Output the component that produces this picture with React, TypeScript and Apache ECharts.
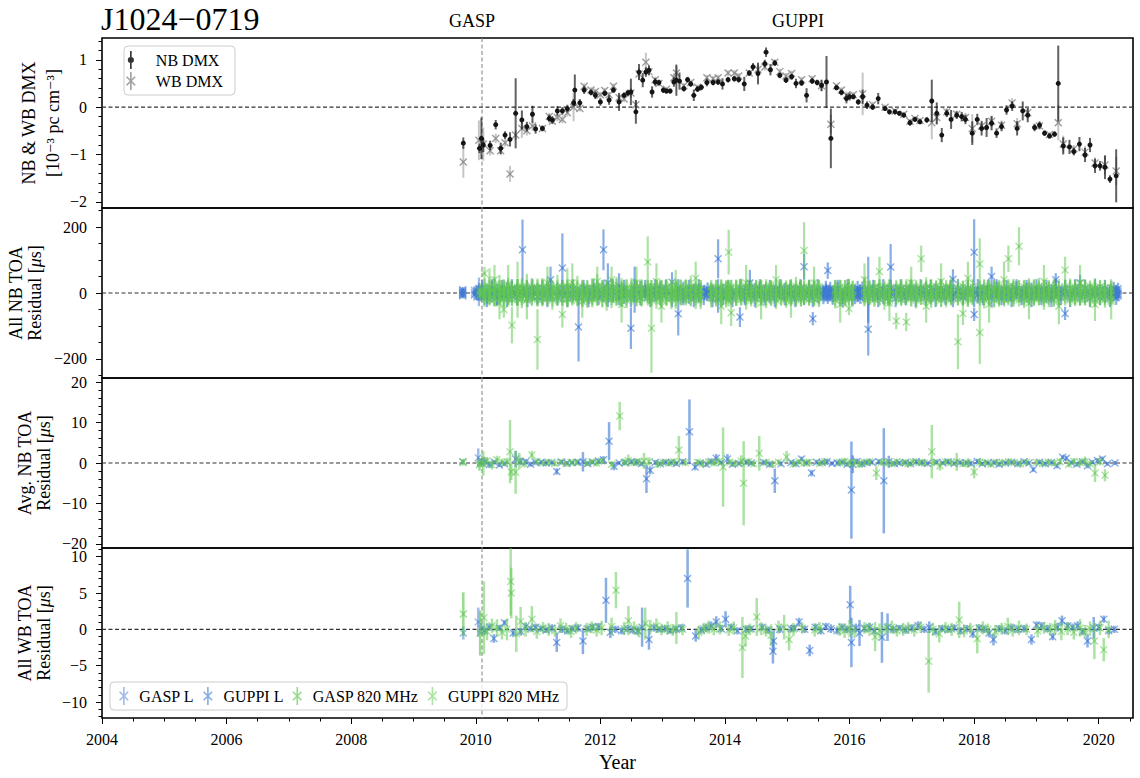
import React, { useEffect, useRef } from 'react';
import * as echarts from 'echarts';

const FONT = '"Liberation Serif", "DejaVu Serif", "Times New Roman", serif';

// ---- shared axis settings -------------------------------------------------
const yearMin = 2004;
const yearMax = 2020.55;
const yearTicks = [2004, 2006, 2008, 2010, 2012, 2014, 2016, 2018, 2020];
const backendSwitchYear = 2010.1;
const dmxTicks = [-2, -1, 0, 1];
const allNbTicks = [-200, 0, 200];
const avgNbTicks = [-20, -10, 0, 10, 20];
const allWbTicks = [-10, -5, 0, 5, 10];

// ---- DMX time series: [year, DMX (1e-3 pc cm^-3), error] ------------------
const nbDmx = [
  [2009.80, -0.76, 0.12], [2010.06, -0.87, 0.10], [2010.09, -0.66, 0.44], [2010.12, -0.80, 0.15],
  [2010.23, -0.81, 0.10], [2010.32, -0.37, 0.10], [2010.40, -0.87, 0.12], [2010.47, -0.59, 0.08],
  [2010.55, -0.68, 0.15], [2010.64, -0.13, 0.74], [2010.74, -0.27, 0.20], [2010.82, -0.41, 0.10],
  [2010.91, -0.15, 0.18], [2010.96, -0.46, 0.10], [2011.07, -0.45, 0.06], [2011.18, -0.24, 0.08],
  [2011.23, -0.27, 0.08], [2011.31, -0.08, 0.10], [2011.39, -0.08, 0.08], [2011.47, -0.03, 0.08],
  [2011.57, 0.09, 0.08], [2011.59, 0.36, 0.33], [2011.67, 0.09, 0.08], [2011.74, 0.36, 0.08],
  [2011.85, 0.31, 0.06], [2011.92, 0.25, 0.08], [2012.00, 0.11, 0.08], [2012.07, 0.29, 0.06],
  [2012.14, 0.15, 0.10], [2012.21, 0.36, 0.06], [2012.30, 0.11, 0.19], [2012.38, 0.25, 0.06],
  [2012.44, 0.30, 0.06], [2012.49, 0.32, 0.28], [2012.57, -0.10, 0.25], [2012.62, 0.74, 0.17],
  [2012.68, 0.57, 0.15], [2012.73, 0.74, 0.10], [2012.78, 0.78, 0.10], [2012.83, 0.32, 0.12],
  [2012.88, 0.53, 0.08], [2012.94, 0.52, 0.06], [2013.01, 0.36, 0.06], [2013.06, 0.34, 0.05],
  [2013.12, 0.34, 0.05], [2013.18, 0.53, 0.10], [2013.22, 0.57, 0.33], [2013.27, 0.55, 0.18],
  [2013.34, 0.39, 0.06], [2013.40, 0.58, 0.06], [2013.45, 0.49, 0.06], [2013.50, 0.25, 0.12],
  [2013.56, 0.38, 0.06], [2013.62, 0.42, 0.06], [2013.71, 0.52, 0.08], [2013.81, 0.52, 0.06],
  [2013.89, 0.53, 0.06], [2013.96, 0.49, 0.12], [2014.05, 0.58, 0.06], [2014.15, 0.60, 0.06],
  [2014.22, 0.58, 0.06], [2014.31, 0.49, 0.15], [2014.39, 0.72, 0.06], [2014.45, 0.85, 0.08],
  [2014.53, 0.71, 0.23], [2014.64, 0.92, 0.08], [2014.66, 1.16, 0.10], [2014.73, 0.79, 0.12],
  [2014.80, 0.93, 0.06], [2014.88, 0.67, 0.06], [2014.98, 0.57, 0.06], [2015.07, 0.64, 0.06],
  [2015.14, 0.50, 0.10], [2015.23, 0.51, 0.06], [2015.31, 0.25, 0.15], [2015.40, 0.55, 0.06],
  [2015.48, 0.52, 0.06], [2015.55, 0.46, 0.12], [2015.63, 0.53, 0.55], [2015.70, -0.66, 0.63],
  [2015.79, 0.41, 0.05], [2015.87, 0.31, 0.06], [2015.95, 0.18, 0.10], [2016.00, 0.22, 0.08],
  [2016.06, 0.22, 0.05], [2016.14, 0.11, 0.06], [2016.21, 0.22, 0.15], [2016.28, 0.04, 0.08],
  [2016.37, 0.00, 0.06], [2016.46, 0.18, 0.12], [2016.57, -0.03, 0.05], [2016.64, -0.10, 0.05],
  [2016.73, -0.10, 0.05], [2016.80, -0.13, 0.05], [2016.87, -0.17, 0.05], [2016.97, -0.33, 0.06],
  [2017.05, -0.26, 0.05], [2017.13, -0.31, 0.05], [2017.24, -0.27, 0.06], [2017.32, 0.13, 0.45],
  [2017.40, -0.13, 0.23], [2017.48, -0.59, 0.15], [2017.56, -0.13, 0.08], [2017.63, -0.26, 0.20],
  [2017.72, -0.17, 0.08], [2017.80, -0.20, 0.10], [2017.86, -0.26, 0.10], [2017.97, -0.55, 0.25],
  [2018.05, -0.26, 0.12], [2018.12, -0.45, 0.15], [2018.20, -0.43, 0.20], [2018.28, -0.34, 0.15],
  [2018.36, -0.55, 0.10], [2018.44, -0.41, 0.10], [2018.52, -0.06, 0.10], [2018.61, 0.02, 0.10],
  [2018.69, -0.45, 0.15], [2018.78, -0.08, 0.20], [2018.86, -0.17, 0.15], [2018.97, -0.43, 0.08],
  [2019.05, -0.38, 0.08], [2019.13, -0.55, 0.06], [2019.21, -0.61, 0.05], [2019.29, -0.57, 0.06],
  [2019.35, 0.50, 0.80], [2019.43, -0.82, 0.18], [2019.53, -0.84, 0.15], [2019.60, -0.94, 0.08],
  [2019.69, -0.78, 0.15], [2019.78, -1.01, 0.15], [2019.86, -0.80, 0.15], [2019.94, -1.24, 0.15],
  [2020.02, -1.24, 0.10], [2020.10, -1.27, 0.25], [2020.18, -1.52, 0.08], [2020.28, -1.45, 0.56],
];

const wbDmx = [
  [2009.80, -1.16, 0.33], [2010.05, -0.70, 0.42], [2010.12, -0.78, 0.35], [2010.23, -0.92, 0.10],
  [2010.32, -0.66, 0.10], [2010.40, -0.92, 0.10], [2010.47, -0.75, 0.08], [2010.55, -1.41, 0.17],
  [2010.64, -0.59, 0.10], [2010.74, -0.45, 0.20], [2010.82, -0.50, 0.10], [2010.91, -0.40, 0.10],
  [2011.07, -0.45, 0.06], [2011.18, -0.20, 0.08], [2011.23, -0.30, 0.06], [2011.31, -0.22, 0.08],
  [2011.39, -0.26, 0.08], [2011.47, -0.12, 0.08], [2011.57, 0.00, 0.30], [2011.67, -0.03, 0.06],
  [2011.74, 0.44, 0.06], [2011.85, 0.36, 0.06], [2011.92, 0.33, 0.06], [2012.00, 0.26, 0.06],
  [2012.07, 0.35, 0.06], [2012.14, 0.26, 0.06], [2012.21, 0.44, 0.06], [2012.30, 0.20, 0.08],
  [2012.38, 0.17, 0.06], [2012.49, 0.30, 0.10], [2012.57, 0.05, 0.10], [2012.62, 0.70, 0.12],
  [2012.73, 0.95, 0.20], [2012.78, 0.75, 0.10], [2012.88, 0.58, 0.06], [2012.94, 0.50, 0.06],
  [2013.06, 0.38, 0.05], [2013.18, 0.62, 0.10], [2013.22, 0.72, 0.15], [2013.34, 0.45, 0.06],
  [2013.45, 0.52, 0.06], [2013.56, 0.42, 0.06], [2013.71, 0.62, 0.06], [2013.81, 0.60, 0.06],
  [2013.89, 0.62, 0.06], [2014.05, 0.72, 0.06], [2014.15, 0.72, 0.06], [2014.22, 0.66, 0.06],
  [2014.39, 0.72, 0.06], [2014.53, 0.80, 0.10], [2014.64, 0.85, 0.08], [2014.80, 0.95, 0.06],
  [2014.88, 0.75, 0.06], [2014.98, 0.66, 0.06], [2015.07, 0.71, 0.06], [2015.23, 0.58, 0.06],
  [2015.40, 0.60, 0.06], [2015.55, 0.45, 0.12], [2015.70, -0.36, 0.20], [2015.79, 0.45, 0.05],
  [2015.87, 0.36, 0.06], [2015.95, 0.25, 0.08], [2016.06, 0.26, 0.06], [2016.21, 0.28, 0.45],
  [2016.37, 0.05, 0.06], [2016.57, 0.00, 0.05], [2016.73, -0.08, 0.05], [2016.87, -0.15, 0.05],
  [2016.97, -0.30, 0.05], [2017.05, -0.24, 0.05], [2017.13, -0.28, 0.05], [2017.32, -0.33, 0.35],
  [2017.40, -0.22, 0.15], [2017.56, -0.10, 0.08], [2017.72, -0.15, 0.08], [2017.86, -0.22, 0.10],
  [2017.97, -0.45, 0.30], [2018.12, -0.40, 0.12], [2018.28, -0.30, 0.12], [2018.44, -0.38, 0.10],
  [2018.61, 0.09, 0.10], [2018.69, -0.35, 0.12], [2018.86, -0.12, 0.12], [2019.05, -0.40, 0.08],
  [2019.21, -0.58, 0.05], [2019.35, -0.33, 0.37], [2019.43, -0.78, 0.18], [2019.60, -0.88, 0.08],
  [2019.78, -0.95, 0.12], [2019.94, -1.18, 0.12], [2020.10, -1.22, 0.20], [2020.28, -1.35, 0.30],
];

// ---- all narrowband TOAs: [year, res1, err1, res2, err2, ...] in microseconds
const nbToaGaspL = [
  [2009.79, 3, 6, -2, 5, 1, 7, -4, 6, 5, 8, -6, 9, 8, 10, -9, 8, 10, 7, 0, 12],
  [2009.98, 2, 8, -6, 10, 8, 9, -3, 7],
  [2010.02, 5, 12, -8, 14, 0, 10, 10, 13, -12, 11],
  [2010.05, -4, 9, 6, 10, 12, 35, -10, 30, 14, 16],
  [2010.08, 3, 10, -5, 9, 8, 12, -12, 14],
];
const nbToaGasp820 = [
  [2010.07, -6, 15, 8, 20, 2, 12],
];
const nbToaGuppiL = [
  [2010.10, 4, 14, -6, 16, 10, 20, 14, 26], [2010.18, -3, 15, 8, 18, -10, 22, -15, 28],
  [2010.26, 5, 16, -8, 20, 12, 24, 12, 30], [2010.34, -2, 14, 9, 20, -12, 26, -13, 24],
  [2010.42, 6, 18, -5, 15, 0, 24, 14, 26], [2010.50, -7, 16, 4, 14, 11, 22, -15, 28],
  [2010.58, 3, 15, -9, 20, 8, 26, 12, 30], [2010.66, -4, 18, 10, 16, -1, 30, -13, 24],
  [2010.75, 131, 92, 2, 18, -6, 20, 14, 26], [2010.83, 5, 14, -3, 18, 9, 24, -15, 28],
  [2010.91, -8, 16, 3, 20, 6, 14, 12, 30], [2010.99, 1, 15, -10, 22, 12, 18, -13, 24],
  [2011.07, 6, 18, -4, 14, -9, 26, 14, 26], [2011.15, -2, 16, 8, 20, 3, 28, -15, 28],
  [2011.20, 40, 40, -5, 18, 7, 16, 12, 30], [2011.31, 2, 15, -7, 20, 10, 22, -13, 24],
  [2011.39, 76, 105, -3, 16, 5, 18, 14, 26], [2011.47, 8, 20, -6, 14, 0, 24, -15, 28],
  [2011.56, -4, 18, 9, 22, -11, 16, 12, 30], [2011.65, -103, 105, 3, 15, -2, 20, -13, 24],
  [2011.73, 6, 16, -8, 22, 11, 18, 14, 26], [2011.81, -1, 14, 4, 20, -9, 24, -15, 28],
  [2011.89, 7, 18, -5, 16, 2, 26, 12, 30], [2011.97, -6, 15, 10, 20, -2, 18, -13, 24],
  [2012.05, 131, 62, 4, 16, -7, 20, 14, 26], [2012.12, 30, 60, -3, 18, 8, 22, -15, 28],
  [2012.20, 5, 15, -9, 20, 1, 26, 12, 30], [2012.30, 20, 40, -4, 16, 9, 18, -13, 24],
  [2012.38, -2, 14, 6, 20, -10, 24, 14, 26], [2012.49, -107, 63, 3, 18, -5, 16, -15, 28],
  [2012.55, 10, 70, -8, 20, 7, 22, 12, 30], [2012.64, 2, 16, -4, 14, 11, 26, -13, 24],
  [2012.72, -6, 18, 8, 20, 0, 16, 14, 26], [2012.80, 4, 15, -10, 22, 6, 24, -15, 28],
  [2012.88, -3, 16, 9, 18, -7, 20, 12, 30], [2012.96, 5, 20, -2, 14, 10, 28, -13, 24],
  [2013.05, -8, 16, 3, 22, 7, 18, 14, 26], [2013.15, 33, 30, -5, 18, 2, 20, -15, 28],
  [2013.25, -63, 66, 6, 16, -3, 22, 12, 30], [2013.33, 1, 14, -9, 20, 8, 26, -13, 24],
  [2013.42, 7, 18, -4, 16, -11, 22, 14, 26], [2013.50, -2, 15, 5, 20, 10, 18, -15, 28],
  [2013.58, 4, 16, -7, 22, 0, 28, 12, 30], [2013.66, -5, 18, 9, 14, 3, 20, -13, 24],
  [2013.72, 2, 12, -4, 14, 6, 12, -8, 16, 0, 10, 14, 18], [2013.80, 8, 16, -6, 20, 1, 24, -15, 28],
  [2013.89, 104, 59, -20, 40, 3, 16, 12, 30], [2013.97, -3, 18, 7, 20, -9, 14, -13, 24],
  [2014.05, 5, 14, -2, 18, 9, 12, -6, 16, 14, 26], [2014.12, 0, 12, 6, 15, -8, 14, -15, 28],
  [2014.24, -73, 30, 4, 18, -3, 20, 12, 30], [2014.32, 7, 16, -10, 22, 2, 18, -13, 24],
  [2014.40, 30, 40, -5, 16, 6, 20, 14, 26], [2014.48, -1, 15, 8, 22, -7, 18, -15, 28],
  [2014.56, 3, 18, -4, 14, 10, 24, 12, 30], [2014.64, -8, 16, 5, 20, 0, 26, -13, 24],
  [2014.72, 6, 15, -3, 18, -10, 22, 14, 26], [2014.80, 2, 20, 9, 16, -5, 24, -15, 28],
  [2014.88, -4, 14, 7, 22, 1, 18, 12, 30], [2014.96, 5, 18, -8, 16, 3, 28, -13, 24],
  [2015.05, -2, 16, 10, 20, -6, 18, 14, 26], [2015.13, 8, 15, -1, 22, -9, 20, -15, 28],
  [2015.21, -5, 18, 4, 14, 11, 24, 12, 30], [2015.27, 80, 40, -3, 16, 6, 20, -13, 24],
  [2015.35, 1, 15, -7, 20, 9, 22, 14, 26], [2015.41, -78, 20, 3, 18, -4, 16, -15, 28],
  [2015.49, 6, 16, -9, 22, 2, 18, 12, 30], [2015.58, -3, 12, 5, 14, -8, 16, 9, 12, 0, 10, -14, 20],
  [2015.62, 4, 12, -6, 14, 8, 16, -2, 12, 11, 18, 15, 22], [2015.65, 68, 25, -5, 14, 3, 12, -10, 16, -15, 18],
  [2015.69, 2, 12, -7, 14, 6, 16, -3, 10, 9, 14, 14, 20], [2015.73, -4, 14, 7, 12, 0, 16, -9, 18, -14, 22],
  [2015.81, 5, 16, -2, 20, 8, 24, 14, 26], [2015.89, -6, 18, 3, 14, -11, 22, -15, 28],
  [2015.97, 1, 15, 9, 20, -4, 18, 12, 30], [2016.04, -8, 16, 4, 22, 7, 18, -13, 24],
  [2016.09, 3, 12, -5, 14, 9, 16, -2, 10, 6, 14, -14, 20], [2016.13, -6, 12, 8, 14, 1, 16, -10, 18, 4, 12, 15, 22],
  [2016.17, 5, 12, -3, 14, 10, 16, -8, 12, 0, 18, -15, 18], [2016.21, -1, 14, 6, 12, -7, 16, 3, 18, 14, 20],
  [2016.30, -110, 80, 10, 100, -4, 18, 6, 16, -13, 24], [2016.38, 4, 16, -8, 20, 2, 24, 14, 26],
  [2016.46, -5, 15, 7, 22, -1, 18, -15, 28], [2016.54, 9, 18, -3, 16, -10, 24, 12, 30],
  [2016.62, 1, 14, 6, 20, -6, 22, -13, 24], [2016.66, 79, 70, -2, 16, 4, 18, 14, 26],
  [2016.74, -7, 18, 3, 22, 10, 16, -15, 28], [2016.82, 5, 15, -4, 20, 0, 26, 12, 30],
  [2016.90, -2, 16, 8, 18, -9, 22, -13, 24], [2016.98, 6, 20, -5, 14, 2, 24, 14, 26],
  [2017.06, -8, 16, 1, 22, 9, 18, -15, 28], [2017.14, 3, 15, -6, 20, 7, 16, 12, 30],
  [2017.22, -1, 18, 10, 22, -4, 14, -13, 24], [2017.30, 4, 16, -9, 20, 0, 28, 14, 26],
  [2017.38, -6, 15, 5, 18, 8, 22, -15, 28], [2017.46, 2, 20, -3, 16, -10, 18, 12, 30],
  [2017.54, 7, 14, -7, 22, 3, 20, -13, 24], [2017.62, -4, 16, 9, 18, -1, 26, 14, 26],
  [2017.66, 42, 30, 0, 16, -5, 20, -15, 28], [2017.74, 5, 18, -8, 14, 6, 22, 12, 30],
  [2017.82, -2, 15, 3, 20, -9, 24, -13, 24], [2017.90, 8, 16, -5, 22, 1, 18, 14, 26],
  [2018.00, 124, 100, -65, 20, 2, 16, -15, 28], [2018.06, -3, 18, 7, 14, -6, 26, 12, 30],
  [2018.14, 4, 16, -10, 20, 9, 18, -13, 24], [2018.22, -7, 14, 2, 22, 5, 20, 14, 26],
  [2018.28, 50, 30, -4, 16, 6, 18, -15, 28], [2018.36, 1, 15, -8, 20, 10, 24, 12, 30],
  [2018.44, -5, 18, 4, 16, -1, 22, -13, 24], [2018.52, 7, 14, -3, 20, -9, 18, 14, 26],
  [2018.60, 0, 16, 8, 22, -6, 20, -15, 28], [2018.68, -2, 18, 5, 14, 11, 24, 12, 30],
  [2018.76, 6, 15, -7, 20, 2, 18, -13, 24], [2018.84, -4, 16, 9, 22, -10, 20, 14, 26],
  [2018.92, 3, 18, -1, 14, 6, 26, -15, 28], [2019.00, -8, 16, 4, 20, 1, 18, 12, 30],
  [2019.08, 5, 15, -5, 22, 10, 16, -13, 24], [2019.16, -3, 18, 7, 14, -7, 24, 14, 26],
  [2019.24, 2, 16, -9, 20, 8, 18, -15, 28], [2019.31, 40, 20, -2, 16, 4, 22, 12, 30],
  [2019.39, -6, 18, 6, 14, -1, 20, -13, 24], [2019.46, -62, 20, 3, 18, 9, 16, 14, 26],
  [2019.54, -4, 15, 1, 22, -8, 18, -15, 28], [2019.62, 7, 16, -3, 20, 5, 24, 12, 30],
  [2019.70, 30, 25, -6, 16, 2, 18, -13, 24], [2019.78, -1, 18, 8, 14, -9, 22, 14, 26],
  [2019.86, 4, 16, -5, 20, 0, 26, -15, 28], [2019.94, -7, 18, 6, 22, 3, 14, 12, 30],
  [2020.02, 2, 15, -2, 20, 9, 18, -13, 24], [2020.10, -5, 16, 7, 14, -10, 22, 14, 26],
  [2020.18, 3, 18, -4, 16, 6, 20, -15, 28], [2020.24, -2, 12, 5, 14, -8, 16, 9, 12, 0, 10, 14, 20],
  [2020.28, 4, 12, -6, 14, 8, 16, -3, 12, 1, 18, -14, 22], [2020.31, -4, 12, 6, 14, 0, 10, -9, 16, 13, 18],
];
const nbToaGuppi820 = [
  [2010.14, 8, 25, -12, 30, 3, 40, 59, 20, 18, 22, -16, 20], [2010.22, -5, 28, 14, 35, -2, 22, 20, 55, -20, 18, 15, 24],
  [2010.30, 10, 30, -15, 25, 4, 45, 40, 45, 16, 26, -18, 20], [2010.38, -8, 22, 6, 32, 15, 40, -30, 50, -14, 24, 20, 18],
  [2010.45, -50, 25, 5, 28, -10, 35, 12, 30, 12, 28, -21, 20], [2010.52, 3, 30, -14, 26, 9, 38, 25, 60, 18, 22, -16, 20],
  [2010.58, -98, 55, 6, 24, -4, 36, -20, 18, 15, 24], [2010.67, 10, 85, -9, 30, 13, 28, 2, 40, 16, 26, -18, 20],
  [2010.74, -3, 26, 11, 34, -16, 30, -14, 24, 20, 18], [2010.82, 7, 32, -6, 24, 16, 42, -20, 60, 12, 28, -21, 20],
  [2010.90, -12, 28, 4, 30, 10, 36, 18, 22, -16, 20], [2010.99, -141, 92, 2, 26, -8, 34, 14, 30, -20, 18, 15, 24],
  [2011.07, 9, 30, -13, 28, 5, 40, 16, 26, -18, 20], [2011.15, -4, 24, 12, 34, -9, 30, 30, 50, -14, 24, 20, 18],
  [2011.23, 6, 28, -15, 36, 1, 26, 12, 28, -21, 20], [2011.31, -10, 30, 8, 24, 15, 40, 18, 22, -16, 20],
  [2011.39, -65, 40, 3, 28, -6, 32, -20, 18, 15, 24], [2011.47, 13, 26, -2, 36, -14, 30, 20, 55, 16, 26, -18, 20],
  [2011.55, 30, 60, -7, 28, 9, 32, -14, 24, 20, 18], [2011.63, 4, 30, -11, 26, 14, 38, 12, 28, -21, 20],
  [2011.71, -8, 34, 7, 24, -3, 40, -25, 50, 18, 22, -16, 20], [2011.79, 11, 28, -13, 32, 2, 26, -20, 18, 15, 24],
  [2011.87, -5, 30, 9, 36, -16, 28, 16, 26, -18, 20], [2011.95, 6, 24, -9, 30, 15, 42, 35, 45, -14, 24, 20, 18],
  [2012.03, -12, 32, 3, 28, 10, 26, 12, 28, -21, 20], [2012.10, 8, 30, -6, 34, -14, 40, 18, 22, -16, 20],
  [2012.18, -2, 26, 13, 30, -10, 36, 40, 40, -20, 18, 15, 24], [2012.26, 5, 28, -15, 24, 9, 40, 16, 26, -18, 20],
  [2012.34, -9, 32, 7, 26, 1, 44, -35, 55, -14, 24, 20, 18], [2012.42, 12, 30, -4, 28, -12, 34, 12, 28, -21, 20],
  [2012.50, -6, 24, 10, 36, 3, 30, 18, 22, -16, 20], [2012.58, 4, 34, -13, 28, 15, 26, 30, 50, -20, 18, 15, 24],
  [2012.66, -10, 28, 6, 30, -1, 40, 16, 26, -18, 20], [2012.76, 94, 78, -5, 26, 8, 32, -14, 24, 20, 18],
  [2012.82, -107, 135, 11, 28, -9, 30, 12, 28, -21, 20], [2012.90, 2, 30, -14, 34, 13, 26, 35, 55, 18, 22, -16, 20],
  [2012.98, -7, 26, 5, 30, -3, 44, -40, 50, -20, 18, 15, 24], [2013.06, 10, 32, -11, 28, 0, 36, 16, 26, -18, 20],
  [2013.14, -4, 28, 14, 26, -15, 34, -14, 24, 20, 18], [2013.21, 7, 30, -8, 40, 3, 24, 25, 45, 12, 28, -21, 20],
  [2013.29, -13, 26, 9, 32, -2, 30, 18, 22, -16, 20], [2013.37, 5, 34, -6, 28, 12, 30, -20, 18, 15, 24],
  [2013.45, -10, 30, 2, 26, 15, 38, 16, 26, -18, 20], [2013.53, 8, 24, -15, 34, -1, 30, 45, 50, -14, 24, 20, 18],
  [2013.61, -3, 30, 11, 28, -9, 40, 12, 28, -21, 20], [2013.78, 6, 28, -12, 32, 4, 26, 18, 22, -16, 20],
  [2013.86, -8, 34, 10, 30, -2, 24, -20, 18, 15, 24], [2013.94, 13, 26, -5, 36, -14, 30, -40, 55, 16, 26, -18, 20],
  [2014.02, 3, 30, 9, 28, -11, 34, -14, 24, 20, 18], [2014.06, 124, 68, -6, 26, 5, 30, 12, 28, -21, 20],
  [2014.10, -60, 40, 12, 28, -3, 32, 18, 22, -16, 20], [2014.18, 7, 30, -13, 26, 1, 40, -20, 18, 15, 24],
  [2014.26, -9, 28, 4, 34, 14, 30, 16, 26, -18, 20], [2014.34, 10, 26, -4, 30, -15, 36, 30, 55, -14, 24, 20, 18],
  [2014.42, -2, 32, 8, 28, -10, 24, 12, 28, -21, 20], [2014.50, 5, 30, -12, 34, 13, 26, 18, 22, -16, 20],
  [2014.58, -7, 28, 11, 30, 0, 38, -30, 50, -20, 18, 15, 24], [2014.66, 9, 26, -14, 32, 3, 30, 16, 26, -18, 20],
  [2014.74, -5, 34, 6, 28, 15, 24, -14, 24, 20, 18], [2014.82, 2, 30, -9, 26, -13, 36, 40, 45, 12, 28, -21, 20],
  [2014.90, -11, 28, 10, 32, 4, 30, 18, 22, -16, 20], [2014.98, 7, 24, -3, 36, -15, 30, -20, 18, 15, 24],
  [2015.06, -8, 30, 13, 28, 1, 34, -25, 50, 16, 26, -18, 20], [2015.14, 4, 26, -10, 30, 9, 40, -14, 24, 20, 18],
  [2015.22, -1, 32, 12, 28, -14, 26, 12, 28, -21, 20], [2015.27, 129, 86, 6, 30, -5, 28, 18, 22, -16, 20],
  [2015.35, -12, 26, 3, 34, 10, 30, -20, 18, 15, 24], [2015.43, 8, 30, -7, 28, -2, 38, 30, 50, 16, 26, -18, 20],
  [2015.51, -4, 28, 14, 26, -11, 32, -14, 24, 20, 18], [2015.77, 5, 30, -13, 34, 11, 28, 12, 28, -21, 20],
  [2015.85, -9, 26, 7, 30, 0, 40, -35, 55, 18, 22, -16, 20], [2015.93, 12, 28, -5, 32, -15, 26, -20, 18, 15, 24],
  [2015.99, -47, 20, 4, 30, 9, 34, 16, 26, -18, 20], [2016.05, -6, 28, 10, 26, -12, 30, -14, 24, 20, 18],
  [2016.24, 3, 32, -8, 28, 14, 36, 40, 50, 12, 28, -21, 20], [2016.32, -10, 26, 6, 30, -1, 34, 18, 22, -16, 20],
  [2016.40, 9, 30, -14, 28, 4, 24, -20, 18, 15, 24], [2016.48, 65, 45, -3, 34, 11, 30, 16, 26, -18, 20],
  [2016.56, -7, 28, 5, 26, -13, 38, -14, 24, 20, 18], [2016.64, 13, 30, -2, 32, -9, 28, -30, 55, 12, 28, -21, 20],
  [2016.75, -85, 25, 8, 26, -5, 30, 18, 22, -16, 20], [2016.83, 1, 34, -11, 28, 12, 30, -20, 18, 15, 24],
  [2016.91, -88, 28, 6, 30, -6, 26, 16, 26, -18, 20], [2016.99, -12, 30, 10, 34, 3, 28, 30, 50, -14, 24, 20, 18],
  [2017.07, 7, 26, -4, 30, -15, 32, 12, 28, -21, 20], [2017.15, 104, 40, -8, 28, 9, 30, 18, 22, -16, 20],
  [2017.23, 2, 32, -13, 26, 14, 34, -40, 50, -20, 18, 15, 24], [2017.31, -5, 28, 11, 30, -10, 36, 16, 26, -18, 20],
  [2017.39, 8, 30, -1, 28, -14, 26, -14, 24, 20, 18], [2017.47, -9, 34, 5, 26, 12, 30, 35, 55, 12, 28, -21, 20],
  [2017.55, 4, 28, -12, 32, -3, 30, 18, 22, -16, 20], [2017.63, -6, 30, 13, 26, 7, 40, -20, 18, 15, 24],
  [2017.74, -148, 83, 2, 30, -9, 28, 16, 26, -18, 20], [2017.82, -62, 35, 10, 26, -4, 32, -14, 24, 20, 18],
  [2017.90, 6, 30, -14, 28, 1, 36, 45, 50, 12, 28, -21, 20], [2017.98, -11, 26, 9, 34, -2, 30, 18, 22, -16, 20],
  [2018.09, 88, 78, -120, 96, 4, 28, -20, 18, 15, 24], [2018.16, -7, 30, 12, 26, -13, 34, 16, 26, -18, 20],
  [2018.24, 3, 28, -5, 32, 10, 30, -35, 55, -14, 24, 20, 18], [2018.32, -10, 34, 7, 28, 14, 26, 12, 28, -21, 20],
  [2018.40, 5, 26, -12, 30, -1, 36, 18, 22, -16, 20], [2018.48, -3, 30, 11, 28, -9, 32, 40, 55, -20, 18, 15, 24],
  [2018.55, 104, 40, 8, 30, -6, 26, 16, 26, -18, 20], [2018.63, -14, 28, 2, 34, 13, 30, -14, 24, 20, 18],
  [2018.72, 142, 58, -4, 26, 6, 32, 12, 28, -21, 20], [2018.80, -8, 30, 10, 28, -12, 34, 18, 22, -16, 20],
  [2018.88, 4, 26, -2, 32, 15, 30, -30, 50, -20, 18, 15, 24], [2018.96, -6, 28, 9, 30, -13, 26, 16, 26, -18, 20],
  [2019.04, 12, 34, -9, 28, 1, 30, -14, 24, 20, 18], [2019.12, -4, 30, 6, 26, -15, 36, 35, 50, 12, 28, -21, 20],
  [2019.20, 7, 28, -11, 32, 3, 30, 18, 22, -16, 20], [2019.28, -1, 26, 13, 30, -8, 34, -20, 18, 15, 24],
  [2019.36, 5, 32, -6, 28, -12, 26, -40, 55, 16, 26, -18, 20], [2019.46, 70, 40, 10, 30, -3, 28, -14, 24, 20, 18],
  [2019.54, -10, 28, 4, 34, 14, 30, 12, 28, -21, 20], [2019.62, 8, 30, -14, 26, -2, 32, 18, 22, -16, 20],
  [2019.70, -5, 26, 11, 30, 2, 40, 30, 55, -20, 18, 15, 24], [2019.78, 3, 34, -9, 28, 12, 26, 16, 26, -18, 20],
  [2019.86, -12, 30, 6, 28, -4, 32, -14, 24, 20, 18], [2019.94, 9, 26, -7, 34, 15, 30, -35, 50, 12, 28, -21, 20],
  [2020.02, -3, 30, 10, 28, -11, 26, 18, 22, -16, 20], [2020.10, 5, 28, -13, 32, 1, 30, -20, 18, 15, 24],
  [2020.20, -25, 55, 7, 30, -6, 28, 16, 26, -18, 20],
];

// ---- epoch-averaged narrowband residuals: [year, residual (us), error] ----
const avgGaspL = [[2009.79, 0.3, 0.5], [2010.04, 1.3, 2.3], [2010.08, 0.2, 0.9]];
const avgGasp820 = [[2009.80, 0.2, 0.8], [2010.06, -0.4, 1.5]];
const avgGuppiL = [
  [2010.14, 0.3, 1.2], [2010.22, -0.4, 0.8], [2010.30, 0.2, 0.6], [2010.38, -0.5, 0.5], [2010.46, -0.2, 0.6],
  [2010.64, 1.0, 2.0], [2010.72, 0.4, 0.9], [2010.80, 0.3, 0.7], [2010.88, -0.3, 0.6], [2010.96, 0.1, 0.5],
  [2011.05, 0.2, 0.5], [2011.13, 0.0, 0.6], [2011.22, 0.1, 0.5], [2011.30, -2.1, 0.8], [2011.38, 0.2, 0.6],
  [2011.47, 0.0, 0.5], [2011.55, 0.1, 0.4], [2011.64, 0.2, 0.6], [2011.72, 0.3, 2.4], [2011.80, -0.1, 0.5],
  [2011.88, 0.2, 0.5], [2011.97, 0.5, 0.6], [2012.05, 0.8, 0.9], [2012.14, 5.4, 4.7], [2012.22, -0.8, 1.0],
  [2012.30, 0.0, 0.5], [2012.40, 0.1, 0.6], [2012.50, 0.3, 0.6], [2012.58, 0.2, 0.8], [2012.66, -0.2, 0.6],
  [2012.74, -3.9, 3.5], [2012.80, -1.8, 1.0], [2012.88, 0.1, 0.6], [2012.96, -0.2, 0.5], [2013.05, 0.2, 0.6],
  [2013.14, 0.1, 0.5], [2013.22, -0.1, 0.6], [2013.32, 0.3, 0.7], [2013.43, 7.7, 8.0], [2013.52, -1.0, 0.8],
  [2013.60, 0.0, 0.5], [2013.70, -0.3, 0.6], [2013.78, 0.4, 0.7], [2013.86, 1.2, 1.0], [2013.94, 0.1, 0.5],
  [2014.04, 1.0, 1.2], [2014.12, -0.3, 0.6], [2014.22, -0.1, 0.5], [2014.34, 0.2, 0.6], [2014.42, 0.0, 0.5],
  [2014.62, 0.1, 0.6], [2014.72, -0.3, 0.7], [2014.80, -4.4, 3.0], [2014.90, -0.2, 0.6], [2015.06, 0.1, 0.5],
  [2015.14, -0.2, 0.6], [2015.23, 1.0, 0.6], [2015.31, 0.0, 0.5], [2015.39, -2.5, 0.8], [2015.47, 0.2, 0.6],
  [2015.56, 0.1, 0.5], [2015.64, 0.3, 0.7], [2015.72, -0.1, 0.5], [2015.80, 0.0, 0.6], [2015.88, 0.2, 0.5],
  [2015.96, -0.3, 0.6], [2016.03, -6.7, 12.0], [2016.05, -0.3, 2.2], [2016.12, 0.4, 0.7], [2016.20, -0.2, 0.8],
  [2016.28, 0.1, 0.6], [2016.36, 0.2, 0.5], [2016.47, 0.3, 0.6], [2016.55, -4.4, 13.0], [2016.63, 0.3, 1.5],
  [2016.72, -0.1, 0.6], [2016.80, 0.0, 0.5], [2016.90, 0.1, 0.5], [2016.98, -0.2, 0.5], [2017.07, 0.3, 0.5],
  [2017.16, 0.1, 0.6], [2017.25, -0.1, 0.5], [2017.40, 0.2, 0.5], [2017.50, 0.0, 0.5], [2017.58, 0.3, 0.6],
  [2017.68, -0.1, 0.5], [2017.77, 0.1, 0.5], [2017.87, 0.0, 0.5], [2017.95, -0.1, 0.6], [2018.05, 0.4, 0.6],
  [2018.13, -0.2, 0.5], [2018.22, 0.0, 0.5], [2018.32, 0.1, 0.5], [2018.40, -0.3, 0.6], [2018.50, 0.0, 0.5],
  [2018.60, 0.2, 0.5], [2018.70, -0.2, 0.6], [2018.80, 0.3, 0.5], [2018.88, 0.0, 0.5], [2018.95, -1.6, 0.6],
  [2019.05, 0.2, 0.5], [2019.14, -0.2, 0.5], [2019.24, 0.1, 0.5], [2019.33, -0.7, 0.6], [2019.42, 1.4, 0.5],
  [2019.48, 1.2, 0.6], [2019.56, 0.1, 0.5], [2019.65, -0.3, 0.6], [2019.74, 0.3, 0.5], [2019.82, -0.7, 0.6],
  [2019.90, 0.2, 0.5], [2019.98, 0.6, 0.6], [2020.06, 1.0, 0.6], [2020.14, -0.2, 0.5], [2020.26, 0.0, 0.5],
];
const avgGuppi820 = [
  [2010.12, -0.1, 3.0], [2010.18, 0.5, 1.0], [2010.26, -0.4, 1.2], [2010.34, 0.8, 1.0], [2010.42, 0.2, 0.9],
  [2010.50, 0.3, 1.0], [2010.55, 2.8, 7.8], [2010.57, -2.2, 2.0], [2010.64, -2.3, 5.3], [2010.70, 0.5, 2.0],
  [2010.78, -0.2, 0.9], [2010.90, 2.0, 1.0], [2010.98, 0.4, 0.8], [2011.08, 0.0, 0.6], [2011.17, 0.2, 0.8],
  [2011.27, -0.1, 0.7], [2011.36, 0.3, 0.6], [2011.45, -0.2, 0.7], [2011.53, 0.1, 0.6], [2011.61, 0.2, 0.8],
  [2011.78, -0.1, 0.7], [2011.86, 0.3, 0.6], [2011.94, 0.0, 0.8], [2012.02, 0.5, 0.7], [2012.18, -0.3, 0.8],
  [2012.31, 11.6, 3.5], [2012.38, 0.2, 0.9], [2012.45, 0.6, 1.5], [2012.54, 0.1, 0.9], [2012.62, 0.3, 0.8],
  [2012.70, 0.5, 2.0], [2012.78, 0.4, 1.0], [2012.92, -0.3, 0.9], [2013.00, 0.2, 0.7], [2013.10, 0.0, 0.8],
  [2013.18, 0.3, 0.8], [2013.26, 3.2, 3.5], [2013.36, 0.1, 0.8], [2013.56, 0.2, 0.7], [2013.64, -0.2, 0.9],
  [2013.74, 0.3, 0.7], [2013.82, 0.0, 0.8], [2013.90, 0.4, 0.9], [2013.97, -1.0, 9.8], [2014.08, 0.2, 0.8],
  [2014.16, -0.1, 0.7], [2014.26, 0.5, 1.4], [2014.30, -5.0, 10.4], [2014.38, 0.3, 0.8], [2014.46, -0.2, 0.7],
  [2014.55, 2.4, 4.3], [2014.66, 0.1, 0.8], [2014.76, -0.3, 0.9], [2014.86, 0.2, 0.7], [2014.99, 1.5, 1.5],
  [2015.10, -0.2, 0.8], [2015.19, 0.3, 0.7], [2015.27, 0.0, 0.9], [2015.35, 0.2, 0.8], [2015.52, -0.1, 0.7],
  [2015.60, 0.3, 0.8], [2015.84, 0.1, 0.8], [2015.92, 0.4, 0.9], [2016.00, 0.0, 1.0], [2016.08, 0.2, 0.8],
  [2016.16, -0.3, 0.9], [2016.24, 0.1, 0.7], [2016.32, 0.3, 0.8], [2016.43, -2.5, 1.7], [2016.51, 0.2, 0.8],
  [2016.60, 0.1, 0.9], [2016.68, -0.2, 0.7], [2016.76, 0.3, 0.8], [2016.86, 0.1, 0.7], [2016.94, -0.2, 0.9],
  [2017.02, 0.3, 0.8], [2017.12, 0.1, 0.7], [2017.20, 0.0, 0.9], [2017.32, 2.8, 6.6], [2017.36, 0.2, 0.8],
  [2017.45, -0.7, 1.2], [2017.54, 0.3, 0.7], [2017.63, 0.1, 0.8], [2017.72, 0.3, 2.2], [2017.82, -0.2, 0.8],
  [2017.90, 0.0, 1.2], [2018.00, -2.2, 1.6], [2018.09, 0.2, 0.9], [2018.18, 0.1, 0.7], [2018.27, -0.3, 0.8],
  [2018.36, 0.2, 0.8], [2018.45, 0.0, 0.9], [2018.55, 0.3, 0.8], [2018.64, 0.1, 0.7], [2018.74, -0.2, 0.9],
  [2018.84, 0.2, 0.8], [2019.00, 0.1, 0.8], [2019.10, -0.1, 0.7], [2019.19, 0.2, 0.9], [2019.29, 0.0, 0.8],
  [2019.38, 0.3, 0.9], [2019.52, -0.3, 0.8], [2019.60, 0.4, 0.8], [2019.70, 0.1, 0.9], [2019.78, 0.4, 1.2],
  [2019.86, -0.2, 0.8], [2019.94, -2.5, 2.2], [2020.02, 0.3, 0.9], [2020.10, -3.0, 1.5],
];

// ---- wideband residuals: [year, residual (us), error] ---------------------
const wbGaspL = [[2009.80, -0.5, 0.9], [2010.04, 1.0, 2.0], [2010.09, 0.1, 0.8]];
const wbGasp820 = [[2009.80, 2.1, 3.0], [2010.07, -0.5, 3.1]];
const wbGuppiL = [
  [2010.14, -0.2, 0.6], [2010.22, 0.3, 0.5], [2010.29, -1.25, 0.6], [2010.38, 0.2, 0.4], [2010.46, 0.9, 0.4],
  [2010.60, -0.5, 0.5], [2010.72, -0.3, 0.5], [2010.80, 0.4, 0.5], [2010.88, 0.1, 0.4], [2010.96, 0.3, 0.5],
  [2011.05, 0.1, 0.4], [2011.13, -0.1, 0.4], [2011.22, 0.2, 0.5], [2011.30, -1.8, 1.3], [2011.38, 0.0, 0.5],
  [2011.47, -0.2, 0.4], [2011.55, 0.1, 0.4], [2011.64, 0.2, 0.5], [2011.72, -1.6, 1.8], [2011.80, 0.1, 0.4],
  [2011.88, 0.3, 0.5], [2011.97, 0.4, 0.5], [2012.09, 4.0, 3.1], [2012.16, -0.4, 0.8], [2012.24, 0.0, 0.5],
  [2012.34, -0.2, 0.5], [2012.44, 0.1, 0.5], [2012.52, -0.1, 0.5], [2012.60, -0.2, 0.6], [2012.67, 0.3, 2.7],
  [2012.78, -1.4, 1.4], [2012.86, 0.2, 0.5], [2012.95, 0.0, 0.4], [2013.04, 0.1, 0.5], [2013.12, -0.2, 0.4],
  [2013.22, 0.0, 0.5], [2013.30, 0.2, 0.5], [2013.40, 7.0, 4.0], [2013.53, -0.9, 0.8], [2013.62, -0.1, 0.5],
  [2013.70, 0.2, 0.6], [2013.78, 0.5, 0.6], [2013.86, 1.0, 0.8], [2013.94, 0.1, 0.5], [2014.01, 1.4, 1.1],
  [2014.10, 0.3, 0.5], [2014.20, -0.2, 0.5], [2014.34, 0.0, 0.5], [2014.42, 0.1, 0.4], [2014.60, 0.3, 0.5],
  [2014.70, -0.1, 0.5], [2014.77, -3.0, 1.7], [2014.78, -1.6, 1.5], [2014.88, 0.0, 0.5], [2015.06, 0.1, 0.5],
  [2015.12, 0.2, 0.4], [2015.19, 1.0, 0.6], [2015.28, 0.0, 0.5], [2015.36, -2.9, 0.8], [2015.45, 0.3, 0.5],
  [2015.54, -0.2, 0.5], [2015.62, 0.4, 0.5], [2015.70, 0.1, 0.6], [2015.80, -0.2, 0.5], [2015.88, 0.3, 0.5],
  [2015.96, 0.0, 0.5], [2016.01, 3.4, 2.6], [2016.03, -1.8, 3.4], [2016.10, 0.2, 0.6], [2016.16, -0.5, 1.8],
  [2016.24, 0.1, 0.5], [2016.32, 0.3, 0.6], [2016.40, -0.2, 0.5], [2016.52, -1.1, 3.5], [2016.61, 0.3, 1.9],
  [2016.70, 0.0, 0.5], [2016.80, 0.2, 0.4], [2016.90, -0.1, 0.5], [2017.00, 0.2, 0.5], [2017.10, 0.5, 0.6],
  [2017.20, 0.0, 0.5], [2017.28, 0.3, 0.8], [2017.38, -0.3, 0.5], [2017.48, 0.1, 0.5], [2017.58, 0.0, 0.5],
  [2017.68, 0.2, 0.5], [2017.78, -0.2, 0.5], [2017.88, 0.1, 0.5], [2017.98, -0.6, 0.6], [2018.08, 0.2, 0.5],
  [2018.16, 0.0, 0.5], [2018.24, -0.5, 0.6], [2018.31, -1.4, 0.8], [2018.40, 0.1, 0.5], [2018.50, -0.2, 0.5],
  [2018.60, 0.2, 0.5], [2018.70, 0.0, 0.5], [2018.80, 0.1, 0.5], [2018.92, -1.4, 0.7], [2019.00, 0.6, 0.5],
  [2019.08, 0.5, 0.5], [2019.18, 0.1, 0.5], [2019.26, -1.0, 0.5], [2019.34, 0.3, 0.6], [2019.41, 1.2, 0.7],
  [2019.50, 0.5, 0.5], [2019.58, 0.3, 0.5], [2019.66, 0.5, 0.6], [2019.74, -0.3, 0.5], [2019.82, -1.6, 0.9],
  [2019.92, 0.2, 1.5], [2020.00, 0.3, 0.5], [2020.08, 1.4, 0.5], [2020.16, -0.2, 0.5], [2020.25, 0.0, 0.5],
];
const wbGuppi820 = [
  [2010.13, 1.6, 5.0], [2010.18, -0.3, 1.2], [2010.26, 0.5, 1.0], [2010.34, 0.2, 1.2], [2010.42, -0.4, 1.0],
  [2010.50, 0.0, 1.5], [2010.56, 6.6, 4.7], [2010.57, 5.0, 3.5], [2010.65, -0.6, 2.5], [2010.72, 1.1, 2.0],
  [2010.80, 0.0, 1.0], [2010.90, 1.4, 1.8], [2010.98, -0.3, 1.0], [2011.08, 0.2, 0.8], [2011.17, 0.0, 0.9],
  [2011.27, -0.2, 0.8], [2011.36, 0.5, 1.0], [2011.45, 0.1, 0.8], [2011.53, -0.3, 0.9], [2011.61, 0.2, 0.8],
  [2011.78, 0.0, 0.9], [2011.86, 0.3, 0.8], [2011.94, -0.1, 0.9], [2012.02, 0.2, 1.0], [2012.18, 0.4, 1.2],
  [2012.25, 5.4, 2.5], [2012.38, 0.1, 0.9], [2012.45, 1.2, 2.0], [2012.54, 0.2, 0.9], [2012.62, -0.3, 0.8],
  [2012.72, 0.8, 2.2], [2012.80, 0.3, 1.0], [2012.90, 0.5, 1.0], [2012.98, 0.0, 0.8], [2013.08, 0.2, 0.9],
  [2013.16, -0.1, 0.8], [2013.22, 0.2, 2.2], [2013.32, 0.0, 0.8], [2013.58, -0.4, 0.9], [2013.66, 0.1, 0.8],
  [2013.74, 0.3, 0.9], [2013.82, 0.0, 0.8], [2013.92, 0.2, 0.9], [2014.06, -0.1, 0.8], [2014.14, 0.2, 0.9],
  [2014.28, -2.5, 4.2], [2014.33, -0.9, 1.5], [2014.40, 0.0, 0.8], [2014.51, 1.7, 2.6], [2014.58, 0.1, 0.9],
  [2014.66, -0.2, 0.8], [2014.74, -0.8, 1.5], [2014.86, 0.3, 0.9], [2014.95, 0.3, 1.7], [2015.03, -1.4, 1.5],
  [2015.10, 0.0, 0.9], [2015.24, 0.2, 0.8], [2015.44, -0.1, 0.9], [2015.52, 0.2, 0.8], [2015.84, 0.0, 0.9],
  [2015.92, -0.2, 1.0], [2016.00, 0.1, 1.2], [2016.08, -0.3, 0.9], [2016.24, 0.2, 0.8], [2016.32, 0.0, 0.9],
  [2016.41, -1.0, 2.0], [2016.48, -0.2, 1.0], [2016.58, 0.1, 0.8], [2016.68, 0.3, 0.9], [2016.76, -0.2, 0.8],
  [2016.86, 0.0, 0.9], [2016.94, 0.2, 0.8], [2017.04, -0.1, 0.9], [2017.14, 0.3, 0.8], [2017.27, -4.4, 4.3],
  [2017.34, 0.0, 0.9], [2017.44, -0.6, 1.2], [2017.54, 0.2, 0.8], [2017.64, 0.0, 0.9], [2017.76, 1.3, 2.5],
  [2017.84, -0.2, 0.9], [2017.94, 0.1, 0.8], [2018.05, -1.3, 2.0], [2018.14, 0.2, 0.9], [2018.22, 0.0, 0.8],
  [2018.34, -0.3, 0.9], [2018.44, 0.1, 0.8], [2018.54, 0.4, 1.2], [2018.62, -0.1, 0.9], [2018.72, 0.2, 1.0],
  [2018.84, 0.0, 0.8], [2019.02, -0.2, 0.9], [2019.12, 0.2, 0.8], [2019.22, 0.0, 0.9], [2019.30, 0.3, 1.0],
  [2019.40, -0.3, 1.2], [2019.50, 0.1, 0.9], [2019.60, -0.4, 1.0], [2019.70, 0.2, 1.2], [2019.78, -0.3, 0.9],
  [2019.86, 0.1, 1.0], [2019.93, -1.6, 2.5], [2020.02, 0.2, 1.0], [2020.08, -2.8, 1.6], [2020.16, 0.0, 1.2],
];

// ---- styling ---------------------------------------------------------------
const colGaspL = 'rgba(64,123,213,0.5)';
const colGuppiL = 'rgba(64,123,213,0.62)';
const colGasp820 = 'rgba(97,200,83,0.65)';
const colGuppi820 = 'rgba(97,200,83,0.52)';

const xIcon = 'path://M9.1,0L10.9,0L10.9,20L9.1,20Z M4.6,5.9L5.9,4.6L15.4,14.1L14.1,15.4Z M14.1,4.6L15.4,5.9L5.9,15.4L4.6,14.1Z';
const dotIcon = 'path://M9.1,0L10.9,0L10.9,7.2L9.1,7.2Z M9.1,12.8L10.9,12.8L10.9,20L9.1,20Z M6.6,10A3.4,3.4,0,1,1,13.4,10A3.4,3.4,0,1,1,6.6,10Z';

const GRID_LEFT = 102;
const GRID_RIGHT = 7;
const PANEL_H = 170;

const panels = [
  { top: 38, min: -2.13, max: 1.46, ticks: dmxTicks, minorStep: 0.2, name: 'NB & WB DMX\n[10⁻³ pc cm⁻³]', nameGap: 37, lineHeight: 24 },
  { top: 208, min: -258, max: 258, ticks: allNbTicks, minorStep: 50, name: 'All NB TOA\nResidual [{mu|μ}s]', nameGap: 58, lineHeight: 19 },
  { top: 378, min: -21, max: 21, ticks: avgNbTicks, minorStep: 2, name: 'Avg. NB TOA\nResidual [{mu|μ}s]', nameGap: 49, lineHeight: 19 },
  { top: 548, min: -12.2, max: 11.2, ticks: allWbTicks, minorStep: 1, name: 'All WB TOA\nResidual [{mu|μ}s]', nameGap: 49, lineHeight: 19 },
];

function minorValues(lo: number, hi: number, step: number, majors: number[]) {
  const out: number[] = [];
  const start = Math.ceil(lo / step - 1e-9);
  const end = Math.floor(hi / step + 1e-9);
  for (let k = start; k <= end; k++) {
    const v = +(k * step).toFixed(6);
    if (!majors.some((m) => Math.abs(m - v) < 1e-9)) out.push(v);
  }
  return out;
}

function toaPoints(rows: number[][]) {
  const out: number[][] = [];
  for (const r of rows) for (let i = 1; i + 1 < r.length; i += 2) out.push([r[0], r[i], r[i + 1]]);
  return out;
}

const minusFmt = (v: number) => String(v).replace('-', '\u2212');
const yearFmt = (v: number) => String(v);

function errorBarRenderer(mark: 'x' | 'dot', markerColor: string, barColor: string, barWidth: number, size: number) {
  return (params: any, api: any) => {
    const x = api.value(0);
    const y = api.value(1);
    const e = api.value(2);
    const c = api.coord([x, y]);
    const lo = api.coord([x, y - e]);
    const hi = api.coord([x, y + e]);
    const h = size / 2;
    const kids: any[] = [
      { type: 'line', shape: { x1: c[0], y1: lo[1], x2: c[0], y2: hi[1] }, style: { stroke: barColor, lineWidth: barWidth } },
    ];
    if (mark === 'x') {
      kids.push({ type: 'line', shape: { x1: c[0] - h, y1: c[1] - h, x2: c[0] + h, y2: c[1] + h }, style: { stroke: markerColor, lineWidth: 1.4 } });
      kids.push({ type: 'line', shape: { x1: c[0] - h, y1: c[1] + h, x2: c[0] + h, y2: c[1] - h }, style: { stroke: markerColor, lineWidth: 1.4 } });
    } else {
      kids.push({ type: 'circle', shape: { cx: c[0], cy: c[1], r: h }, style: { fill: markerColor } });
    }
    return { type: 'group', children: kids };
  };
}

function errorSeries(name: string, panel: number, data: number[][], mark: 'x' | 'dot', markerColor: string, barColor: string, barWidth: number, size: number, legendColor: string) {
  return {
    type: 'custom',
    name,
    xAxisIndex: panel,
    yAxisIndex: panel * 2,
    data,
    dimensions: ['year', 'value', 'err'],
    encode: { x: 0, y: 1 },
    renderItem: errorBarRenderer(mark, markerColor, barColor, barWidth, size),
    itemStyle: { color: legendColor },
    clip: true,
    silent: true,
    z: 3,
  };
}

function referenceLines(panel: number) {
  return {
    type: 'custom',
    name: 'ref' + panel,
    xAxisIndex: panel,
    yAxisIndex: panel * 2,
    data: [[backendSwitchYear, 0]],
    encode: { x: 0, y: 1 },
    silent: true,
    clip: true,
    z: 1,
    renderItem: (params: any, api: any) => {
      const cs = params.coordSys;
      const vx = api.coord([api.value(0), 0])[0];
      const hy = api.coord([yearMin, api.value(1)])[1];
      return {
        type: 'group',
        children: [
          { type: 'line', shape: { x1: cs.x, y1: hy, x2: cs.x + cs.width, y2: hy }, style: { stroke: '#333', lineWidth: 1.1, lineDash: [4, 2.5] } },
          { type: 'line', shape: { x1: vx, y1: cs.y, x2: vx, y2: cs.y + cs.height }, style: { stroke: '#8a8a8a', lineWidth: 1.1, lineDash: [4, 2.5] } },
        ],
      };
    },
  };
}

function buildOption() {
  const tickLine = { color: '#000', width: 1 };
  const grid = panels.map((p) => ({
    left: GRID_LEFT, right: GRID_RIGHT, top: p.top, height: PANEL_H,
    show: true, borderColor: '#000', borderWidth: 1.6, backgroundColor: 'transparent',
    containLabel: false, outerBoundsMode: 'none',
  }));

  const xAxis: any[] = panels.map((_, i) => ({
    type: 'value', gridIndex: i, min: yearMin, max: yearMax, position: 'bottom',
    axisLine: { show: false, onZero: false }, splitLine: { show: false },
    axisTick: i === 3 ? { show: true, customValues: yearTicks, length: 6, lineStyle: tickLine } : { show: false },
    axisLabel: i === 3
      ? { show: true, customValues: yearTicks, margin: 13, fontFamily: FONT, fontSize: 16, color: '#000', formatter: yearFmt }
      : { show: false },
    name: i === 3 ? 'Year' : '',
    nameLocation: 'middle', nameGap: 34, nameMoveOverlap: false,
    nameTextStyle: { fontFamily: FONT, fontSize: 20, color: '#000' },
  }));
  xAxis.push({
    type: 'value', gridIndex: 3, min: yearMin, max: yearMax, position: 'bottom',
    axisLine: { show: false, onZero: false }, splitLine: { show: false },
    axisTick: { show: true, customValues: minorValues(yearMin, yearMax, 0.5, yearTicks), length: 3.5, lineStyle: tickLine },
    axisLabel: { show: false },
  });

  const yAxis: any[] = [];
  panels.forEach((p, i) => {
    yAxis.push({
      type: 'value', gridIndex: i, min: p.min, max: p.max, position: 'left',
      axisLine: { show: false, onZero: false }, splitLine: { show: false },
      axisTick: { show: true, customValues: p.ticks, length: 6, lineStyle: tickLine },
      axisLabel: { show: true, customValues: p.ticks, margin: 15, fontFamily: FONT, fontSize: 16, color: '#000', formatter: minusFmt },
      name: p.name, nameLocation: 'middle', nameGap: p.nameGap, nameMoveOverlap: false,
      nameTextStyle: {
        fontFamily: FONT, fontSize: 18, color: '#000', lineHeight: p.lineHeight, align: 'center',
        rich: { mu: { fontFamily: FONT, fontSize: 18, fontStyle: 'italic', color: '#000', lineHeight: p.lineHeight } },
      },
    });
    yAxis.push({
      type: 'value', gridIndex: i, min: p.min, max: p.max, position: 'left',
      axisLine: { show: false, onZero: false }, splitLine: { show: false },
      axisTick: { show: true, customValues: minorValues(p.min, p.max, p.minorStep, p.ticks), length: 3.5, lineStyle: tickLine },
      axisLabel: { show: false },
    });
  });

  const series: any[] = [0, 1, 2, 3].map((i) => referenceLines(i));
  // DMX panel
  series.push(errorSeries('WB DMX', 0, wbDmx, 'x', 'rgba(140,140,140,0.85)', 'rgba(150,150,150,0.55)', 2, 7, '#a0a0a0'));
  series.push(errorSeries('NB DMX', 0, nbDmx, 'dot', '#151515', 'rgba(0,0,0,0.62)', 2, 5, '#333'));
  // TOA panels
  const sets = [
    [toaPoints(nbToaGaspL), toaPoints(nbToaGuppiL), toaPoints(nbToaGasp820), toaPoints(nbToaGuppi820)],
    [avgGaspL, avgGuppiL, avgGasp820, avgGuppi820],
    [wbGaspL, wbGuppiL, wbGasp820, wbGuppi820],
  ];
  const names = ['GASP L', 'GUPPI L', 'GASP 820 MHz', 'GUPPI 820 MHz'];
  const cols = [colGaspL, colGuppiL, colGasp820, colGuppi820];
  sets.forEach((group, gi) => {
    const panel = gi + 1;
    const size = 7;
    const bw = panel === 1 ? 2.2 : 2.5;
    group.forEach((data, k) => {
      series.push(errorSeries(names[k], panel, data, 'x', cols[k], cols[k], bw, size, cols[k]));
    });
  });

  const legendText = { fontFamily: FONT, fontSize: 16, color: '#000' };
  const legend = [
    {
      data: [{ name: 'NB DMX', icon: dotIcon }, { name: 'WB DMX', icon: xIcon }],
      orient: 'vertical', left: 124, top: 46, itemWidth: 40, itemHeight: 18, itemGap: 3,
      padding: [5, 12, 5, 2], borderColor: '#cccccc', borderWidth: 1, borderRadius: 4,
      backgroundColor: 'rgba(255,255,255,0.8)', textStyle: legendText, selectedMode: false,
    },
    {
      data: names.map((n) => ({ name: n, icon: xIcon })),
      orient: 'horizontal', left: 110, top: 682, itemWidth: 21, itemHeight: 18, itemGap: 9,
      padding: [5, 8, 5, 9], borderColor: '#cccccc', borderWidth: 1, borderRadius: 4,
      backgroundColor: 'rgba(255,255,255,0.8)', textStyle: legendText, selectedMode: false,
    },
  ];

  const graphic = [
    { type: 'text', x: 101, y: 19, style: { text: 'J1024\u22120719', fontFamily: FONT, fontSize: 32, fill: '#000', textAlign: 'left', textVerticalAlign: 'middle' } },
    { type: 'text', x: 472, y: 21, style: { text: 'GASP', fontFamily: FONT, fontSize: 18, fill: '#000', textAlign: 'center', textVerticalAlign: 'middle' } },
    { type: 'text', x: 798, y: 21, style: { text: 'GUPPI', fontFamily: FONT, fontSize: 18, fill: '#000', textAlign: 'center', textVerticalAlign: 'middle' } },
  ];

  return { animation: false, backgroundColor: '#fff', grid, xAxis, yAxis, series, legend, graphic };
}

export default function App() {
  const ref = useRef<HTMLDivElement>(null);
  useEffect(() => {
    const chart = echarts.init(ref.current as HTMLDivElement, null, { renderer: 'svg' });
    chart.setOption(buildOption() as any);
    return () => chart.dispose();
  }, []);
  return <div ref={ref} style={{ position: 'fixed', left: 0, top: 0, width: 1140, height: 778, background: '#fff' }} />;
}
